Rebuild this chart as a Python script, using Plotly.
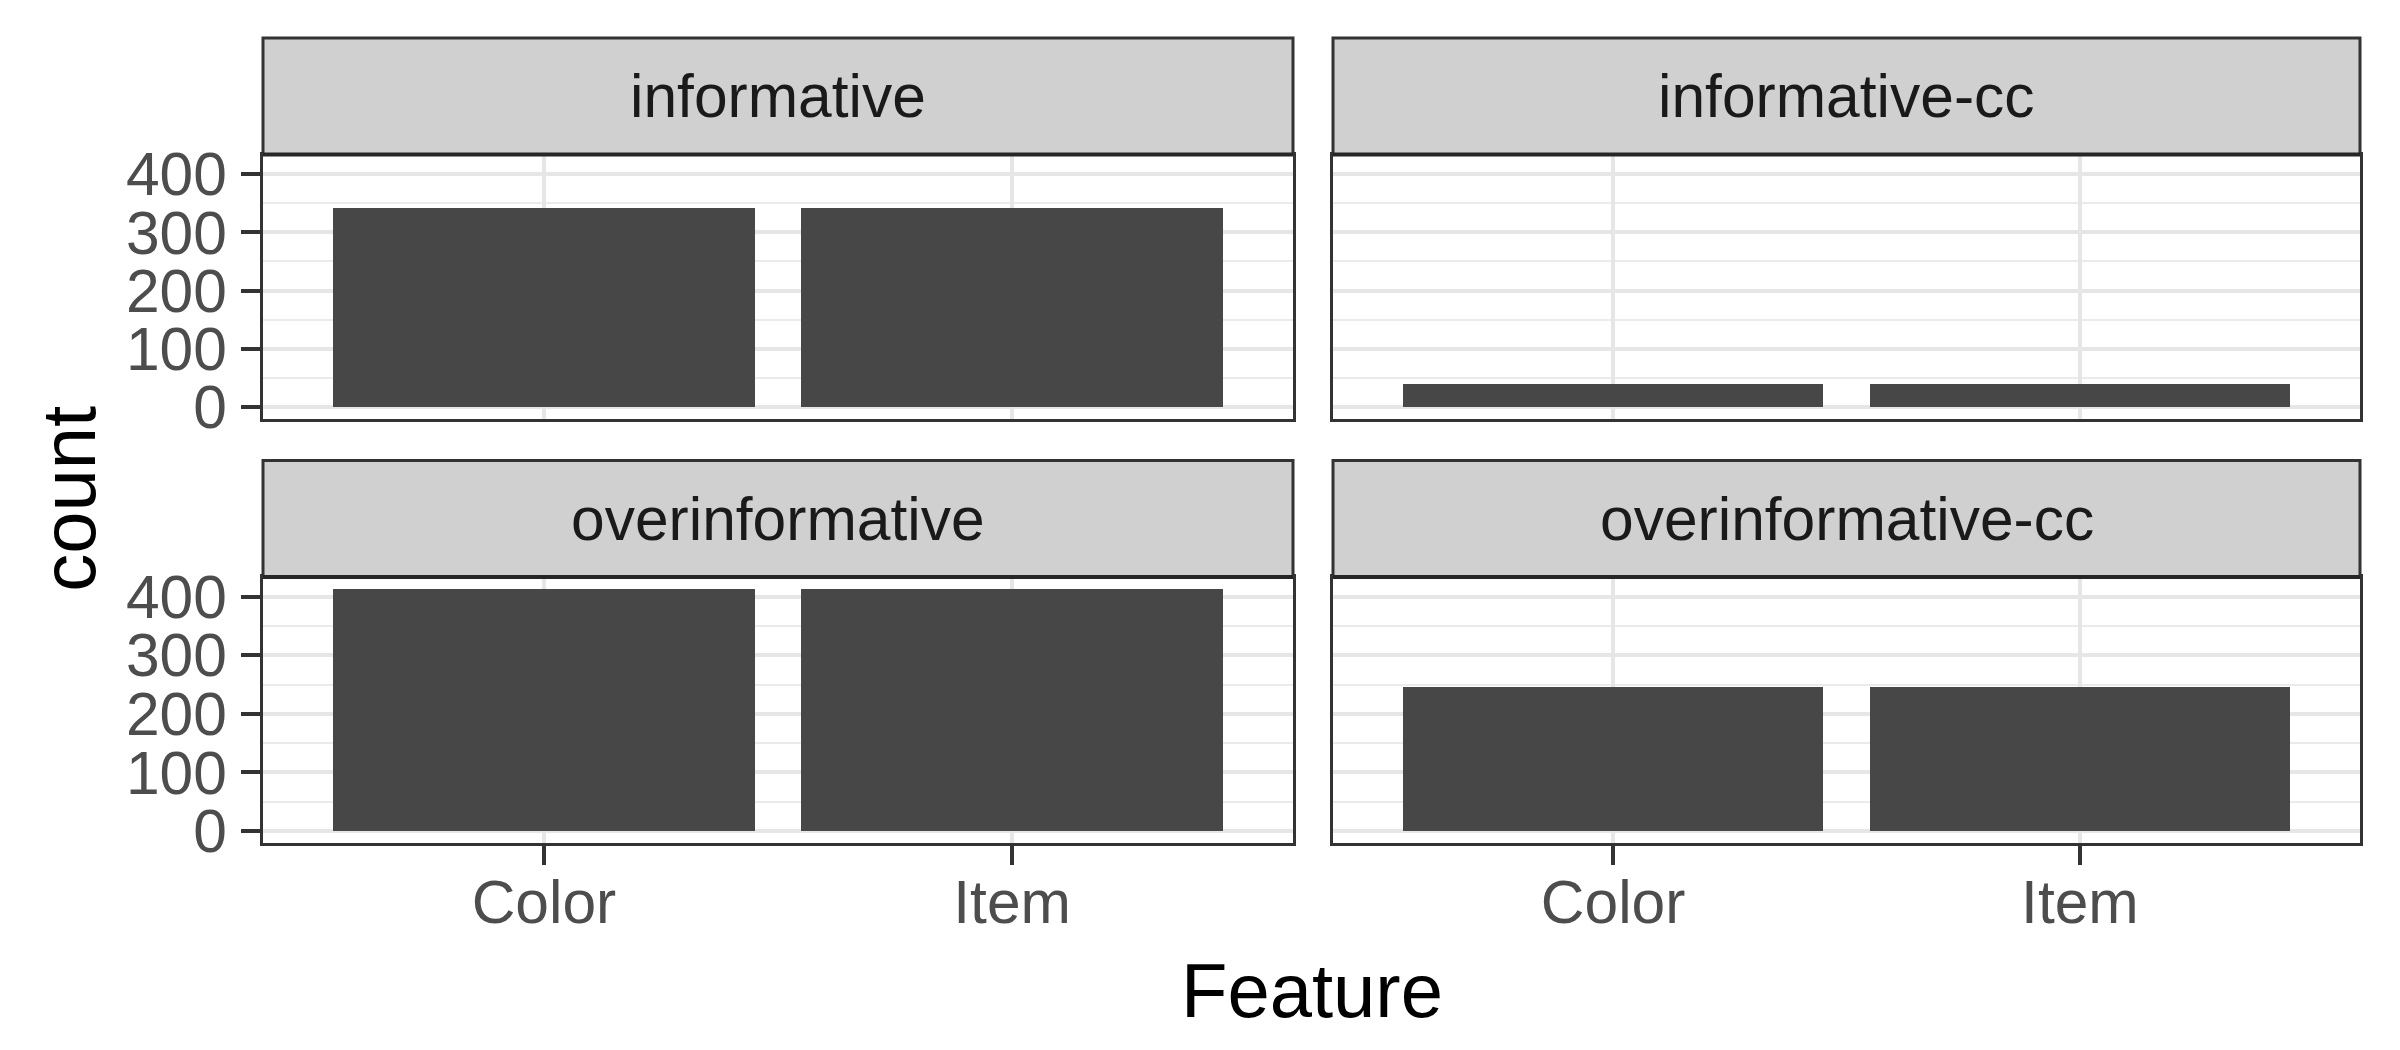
import plotly.graph_objects as go

# ---- data ----
features = ["Color", "Item"]
panels = ["informative", "informative-cc", "overinformative", "overinformative-cc"]
informative = [343, 343]
informative_cc = [40, 40]
overinformative = [413, 413]
overinformative_cc = [246, 246]
y_ticks = [0, 100, 200, 300, 400]

series = [informative, informative_cc, overinformative, overinformative_cc]

W, H = 2400, 1050
FONT = "Liberation Sans, Arial, sans-serif"
TICK_SIZE = 60.5
TITLE_SIZE = 76
GRID = "#E6E6E6"

# panel geometry in pixels
col_x = [(263, 1293), (1333, 2360)]
row_y = [(154.6, 419), (577, 843)]   # panel top, bottom
strip_h = 116.5

def px_x(v):
    return v / W

def px_y(v):
    return 1 - v / H

ymax = max(max(s) for s in series)
yrange = [-0.05 * ymax, 1.05 * ymax]

fig = go.Figure()
layout = {}
for i, (name, vals) in enumerate(zip(panels, series)):
    r, c = divmod(i, 2)
    idx = "" if i == 0 else str(i + 1)
    fig.add_trace(go.Bar(
        x=features, y=vals, width=0.9,
        marker=dict(color="#474747", line=dict(width=0)),
        xaxis="x" + idx, yaxis="y" + idx, showlegend=False,
    ))
    x0, x1 = col_x[c]
    yt, yb = row_y[r]
    layout["xaxis" + idx] = dict(
        domain=[px_x(x0), px_x(x1)], anchor="y" + idx,
        type="category", range=[-0.6, 1.6], automargin=False,
        showgrid=True, gridcolor=GRID, gridwidth=4,
        showline=True, mirror=True, linecolor="#333333", linewidth=3,
        ticks="outside" if r == 1 else "", ticklen=19, tickwidth=4, tickcolor="#333333",
        showticklabels=(r == 1), ticklabelstandoff=-15,
        tickfont=dict(family=FONT, size=TICK_SIZE, color="#4D4D4D"),
        zeroline=False, fixedrange=True,
    )
    layout["yaxis" + idx] = dict(
        domain=[px_y(yb), px_y(yt)], anchor="x" + idx,
        range=yrange, tickvals=y_ticks, automargin=False,
        showgrid=True, gridcolor=GRID, gridwidth=4,
        minor=dict(dtick=50, tick0=0, showgrid=True, gridcolor="#EBEBEB", gridwidth=2, ticks=""),
        showline=True, mirror=True, linecolor="#333333", linewidth=3,
        ticks="outside" if c == 0 else "", ticklen=19, tickwidth=4, tickcolor="#333333",
        showticklabels=(c == 0), ticklabelstandoff=2,
        tickfont=dict(family=FONT, size=TICK_SIZE, color="#4D4D4D"),
        zeroline=False, fixedrange=True,
    )

shapes = []
annotations = []
for i, name in enumerate(panels):
    r, c = divmod(i, 2)
    x0, x1 = col_x[c]
    yt, yb = row_y[r]
    shapes.append(dict(
        type="rect", xref="paper", yref="paper",
        x0=px_x(x0), x1=px_x(x1), y0=px_y(yt), y1=px_y(yt - strip_h),
        fillcolor="#D0D0D0", line=dict(color="#333333", width=3), layer="above",
    ))
    shapes.append(dict(
        type="line", xref="paper", yref="paper",
        x0=px_x(x0), x1=px_x(x1), y0=px_y(yt), y1=px_y(yt),
        line=dict(color="#262626", width=4), layer="above",
    ))
    annotations.append(dict(
        text=name, xref="paper", yref="paper",
        x=px_x((x0 + x1) / 2), y=px_y(yt - strip_h / 2),
        showarrow=False, xanchor="center", yanchor="middle",
        font=dict(family=FONT, size=TICK_SIZE, color="#1A1A1A"),
    ))

annotations.append(dict(
    text="Feature", xref="paper", yref="paper",
    x=px_x((col_x[0][0] + col_x[1][1]) / 2), y=px_y(990),
    showarrow=False, xanchor="center", yanchor="middle",
    font=dict(family=FONT, size=TITLE_SIZE, color="#000000"),
))
annotations.append(dict(
    text="count", xref="paper", yref="paper",
    x=px_x(69), y=px_y((row_y[0][0] + row_y[1][1]) / 2),
    showarrow=False, xanchor="center", yanchor="middle", textangle=-90,
    font=dict(family=FONT, size=TITLE_SIZE, color="#000000"),
))

fig.update_layout(
    width=W, height=H,
    margin=dict(l=0, r=0, t=0, b=0, pad=0, autoexpand=False),
    paper_bgcolor="white", plot_bgcolor="white",
    shapes=shapes, annotations=annotations,
    bargap=0, **layout,
)

fig.write_html("out.html", config={"displayModeBar": False})
